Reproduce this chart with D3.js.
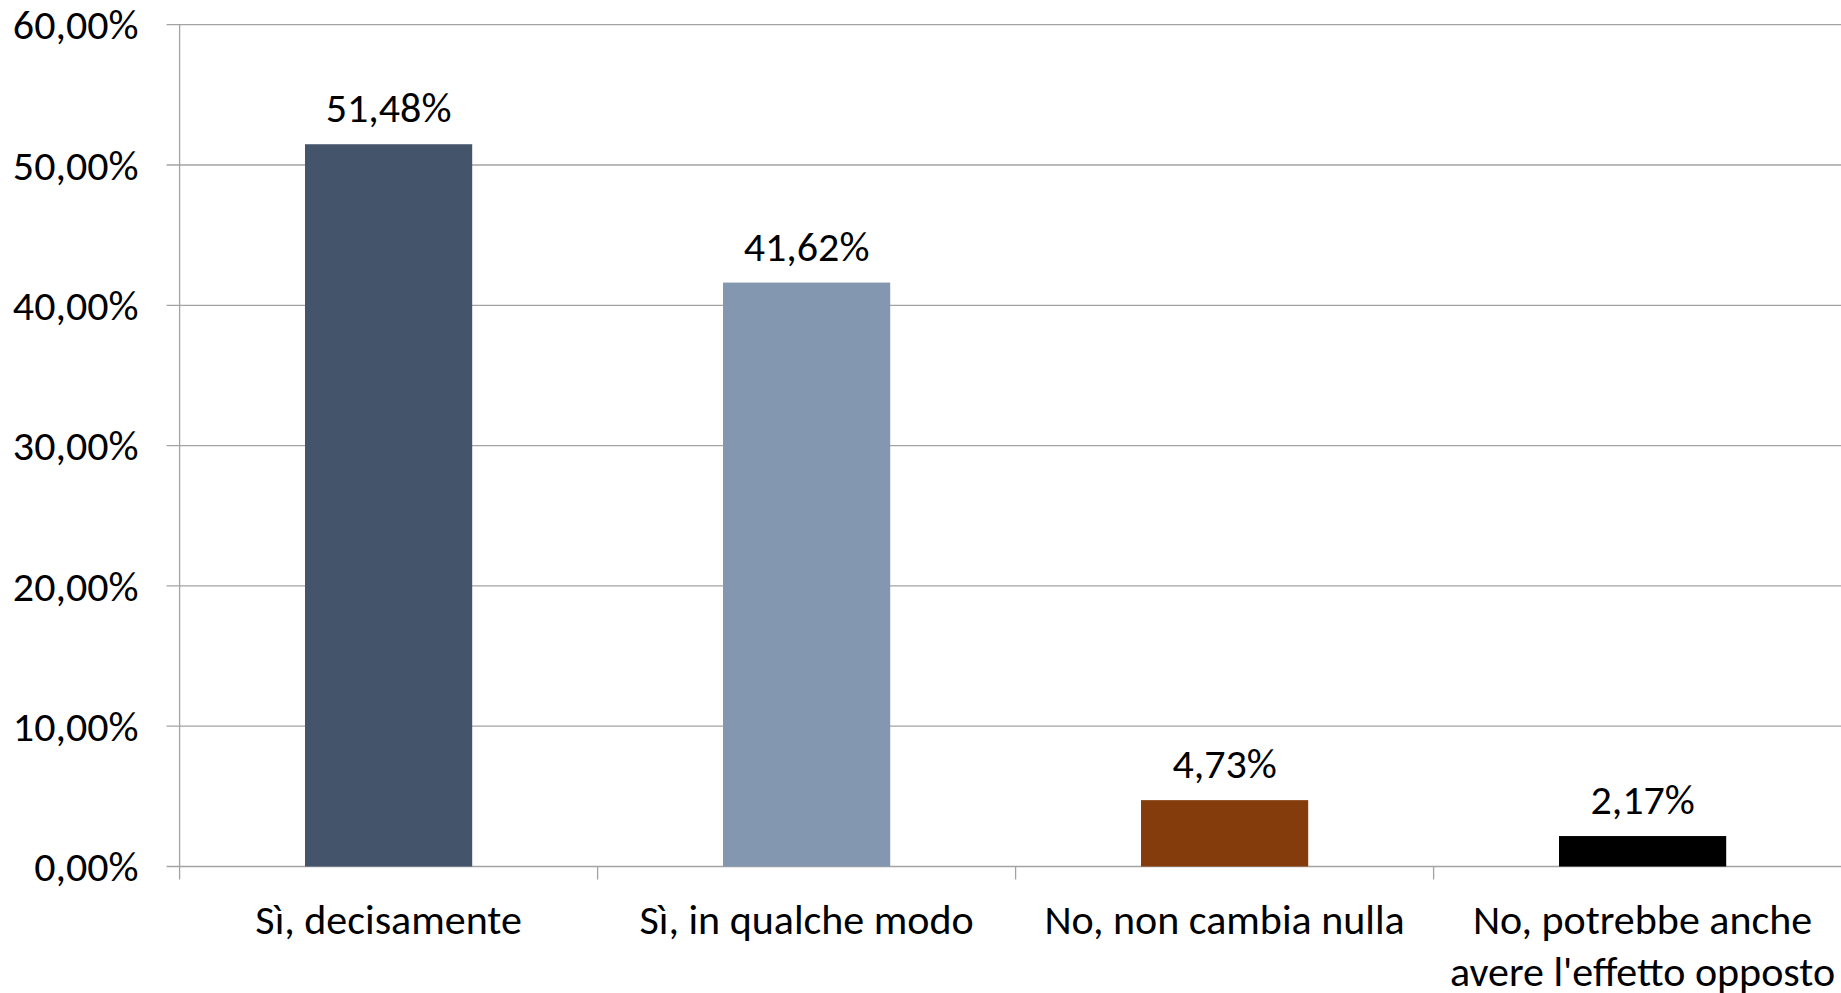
<!DOCTYPE html>
<html>
<head>
<meta charset="utf-8">
<script src="https://cdn.jsdelivr.net/npm/d3@7"></script>
<style>
  html, body { margin: 0; padding: 0; background: #fff; overflow: hidden; }
  text { font-family: Carlito, Calibri, Lato, "Open Sans", sans-serif; fill: #000; }
</style>
</head>
<body>
<svg id="chart" width="1841" height="993"></svg>
<script>
const categories = ["Sì, decisamente", "Sì, in qualche modo", "No, non cambia nulla", "No, potrebbe anche\navere l'effetto opposto"];
const values = [51.48, 41.62, 4.73, 2.17];
const barColors = ["#44546A", "#8497B0", "#843C0C", "#000000"];
const yTicks = [0, 10, 20, 30, 40, 50, 60];

const it = d3.formatLocale({decimal: ",", thousands: ".", grouping: [3], currency: ["", "€"]});
const fmt = v => it.format(".2f")(v) + "%";

const svg = d3.select("#chart");
const x0 = 179.6, x1 = 1851.6, yTop = 24.7, yZero = 866.5;
const gridColor = "#a3a3a3";
const fontSize = 42;

const x = d3.scaleBand().domain(categories).range([x0, x1]).paddingInner(0.6).paddingOuter(0.3);
const y = d3.scaleLinear().domain([0, 60]).range([yZero, yTop]);

// gridlines + y tick marks
svg.append("g").selectAll("line").data(yTicks).join("line")
  .attr("x1", x0 - 13).attr("x2", 1841)
  .attr("y1", d => y(d)).attr("y2", d => y(d))
  .attr("stroke", gridColor).attr("stroke-width", 1.3);

// y axis line
svg.append("line").attr("x1", x0).attr("x2", x0).attr("y1", y(60)).attr("y2", yZero + 13)
  .attr("stroke", gridColor).attr("stroke-width", 1.3);

// category ticks at band boundaries
const step = x.step();
const bounds = d3.range(1, categories.length + 1).map(i => x0 + i * step);
svg.append("g").selectAll("line").data(bounds).join("line")
  .attr("x1", d => d).attr("x2", d => d).attr("y1", yZero).attr("y2", yZero + 13)
  .attr("stroke", gridColor).attr("stroke-width", 1.3);

// y tick labels
svg.append("g").selectAll("text").data(yTicks).join("text")
  .attr("x", 138.5).attr("y", d => y(d)).attr("dy", "0.35em")
  .attr("text-anchor", "end").attr("font-size", fontSize)
  .text(d => it.format(".2f")(d) + "%");

// bars
svg.append("g").selectAll("rect").data(values).join("rect")
  .attr("x", (d, i) => x(categories[i]))
  .attr("width", x.bandwidth())
  .attr("y", d => y(d))
  .attr("height", d => yZero - y(d))
  .attr("fill", (d, i) => barColors[i]);

// value labels
svg.append("g").selectAll("text").data(values).join("text")
  .attr("x", (d, i) => x(categories[i]) + x.bandwidth() / 2)
  .attr("y", d => y(d) - 22)
  .attr("text-anchor", "middle").attr("font-size", fontSize)
  .text(d => fmt(d));

// category labels
const cl = svg.append("g").selectAll("text").data(categories).join("text")
  .attr("x", d => x(d) + x.bandwidth() / 2)
  .attr("y", 934)
  .attr("text-anchor", "middle").attr("font-size", fontSize);
cl.each(function(d) {
  const t = d3.select(this);
  const cx = +t.attr("x");
  d.split("\n").forEach((line, i) => {
    t.append("tspan").attr("x", cx).attr("dy", i === 0 ? 0 : 52).text(line);
  });
});
</script>
</body>
</html>
